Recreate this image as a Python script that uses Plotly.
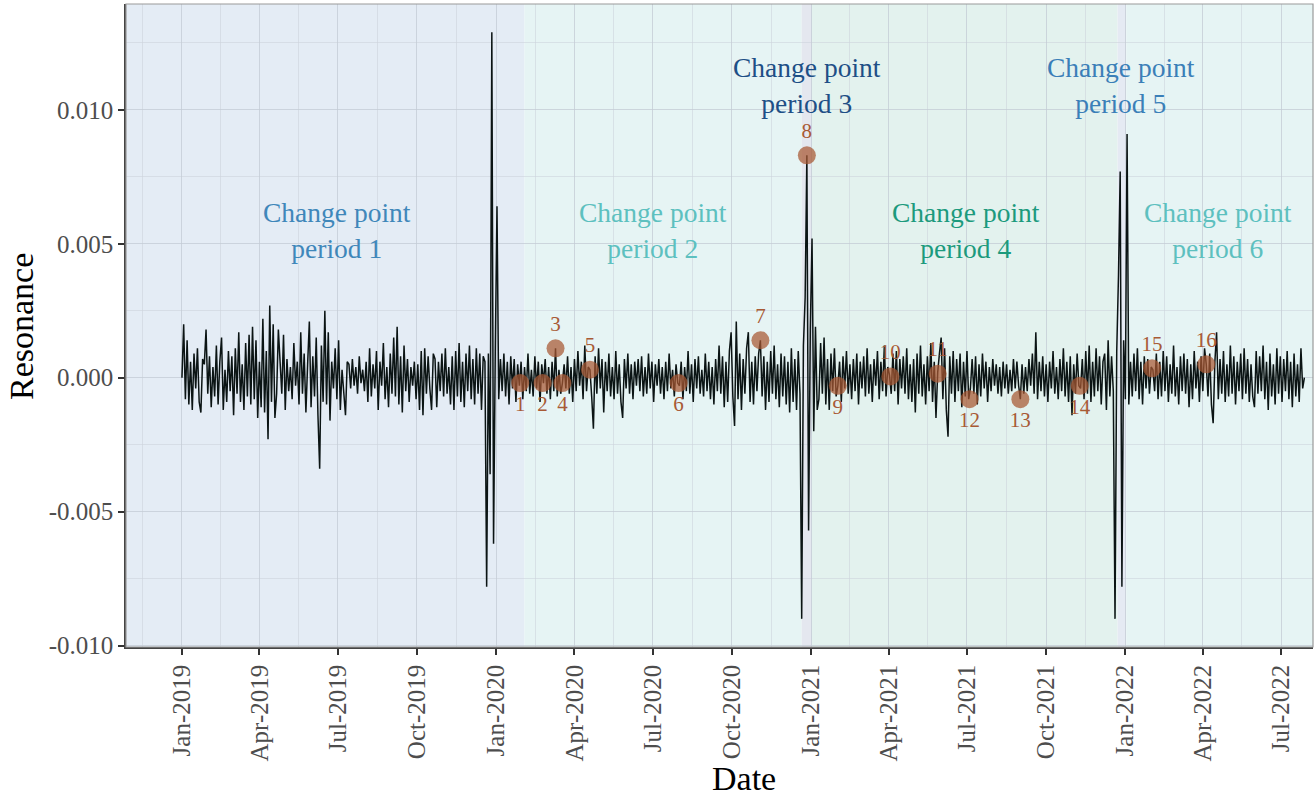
import pandas as pd
import plotly.graph_objects as go

# ---------------- data (resonance in units of 1e-4, one value every 2 days) ----------------
res_2019_start = "2019-01-01"
res_2019 = [
    0, 20, -8, 14, -10, 6, -12, 9, -4, 11,
    -9, -13, 7, 5, 18, -6, 8, -11, 4, -7,
    12, -10, 6, 15, -12, 3, -9, 10, -5, 8,
    -14, 11, -6, 17, -9, 5, -12, 13, -7, 16,
    -10, 19, -8, 14, -15, 6, -11, 22, -13, 10,
    -23, 27, -9, 20, -15, -6, 18, 8, -6, 16,
    -12, 7, -5, 4, -8, 13, -3, 6, -10, 17,
    -6, 9, -13, 5, 21, -11, 8, -7, 15, -14,
    -34, 12, -9, 25, -10, 17, -16, 6, -4, 11,
    -8, 14, -12, 3, -6, -14, 6, 5, -4, 7,
    -3, 4, -6, 8, -2, 3, -5, 6, -9, 11,
    -7, 5, -4, 10, -12, 6, -3, 13, -8, 4,
    -11, 9, -6, 15, -7, 19, -10, 8, -13, 12,
    -5, 7, -9, 4, -3, 6, -8, 5, -12, 10,
    -14, 11, -6, 8, -4, -12, 9, 7, -11, 6,
    -5, 9, -7, 11, -6, 4, -10, 8, -12, 10,
    -7, 13, -9, 6, -11, 9, -5, 12, -8, 7,
    -10, 11, -6, 9, -12, 8,
]
spike_2019_start = "2019-12-19"
spike_2019 = [6, -78, 9, -36, 129, -62, 10, 64, -8, 7]

res_2020_start = "2020-01-08"
res_2020 = [
    -5, 9, -7, 6, -10, 8, -4, 7, -9, 5,
    -3, 6, -8, 4, -5, 9, -6, 3, -7, 8,
    -4, 6, -9, 5, -2, 7, -6, 4, -8, 6,
    -5, 11, -7, 3, -6, -2, 5, -4, 8, -6,
    4, -9, 7, -5, 10, -3, 6, -8, 12, -5,
    4, 3, -7, -19, 8, -6, 11, -4, 7, -13,
    6, -5, 9, -7, 4, -8, 10, -6, 5, -9,
    -15, 7, -4, 9, -6, 5, -8, 6, -3, 7,
    -5, 8, -7, 4, -6, 9, -4, 6, -9, 5,
    -3, 7, -6, 4, -8, 6, -5, 9, -4, 3,
    -7, 5, -2, -3, 6, -8, 4, -5, 10, -6,
    5, -9, 7, -4, 8, -6, 3, -7, 9, -5,
    6, -8, 4, -10, 7, -5, 12, -6, 8, -11,
    6, -9, 10, 17, -7, -18, 21, -8, 9, -12,
    7, -6, 11, 17, -9, 6, -10, 8, -5, 9,
    14, -7, 8, -12, 6, -9, 10, -6, 12, -8,
    5, -11, 9, -7, 8, -10, 6, -13, 11, -9,
    7, -12, 10, -6,
]
spike_2020_start = "2020-12-21"
spike_2020 = [-90, 12, 30, 83, -57, 18, 52, -20, 19, -12]

res_2021_start = "2021-01-10"
res_2021 = [
    -8, 13, -6, 15, -10, 7, -12, 9, -5, 11,
    -7, -3, 6, -9, 8, -4, 10, -6, 5, -8,
    7, -5, 9, -10, 6, -4, 8, -7, 11, -6,
    5, -9, 7, -3, 10, -8, 6, -5, 12, -7,
    4, 1, -6, 9, -5, 10, -10, 7, -4, 8,
    -6, 11, -8, 5, -9, 7, -13, 9, -6, 12,
    -7, 5, -10, 8, -5, 13, -9, 6, -15, 2,
    9, 15, -8, 11, -12, -22, 8, -6, 10, -9,
    7, -5, 9, -11, 6, -7, 10, -8, -4, 7,
    -6, 8, -10, 5, -7, 9, -4, 6, -9, 4,
    -5, 7, -3, 5, -6, 4, -7, 6, -4, 5,
    -6, 3, -5, 7, -4, 6, -3, -8, 5, -6,
    4, -5, 7, -3, 9, -6, 17, -8, 6, -5,
    8, -7, 5, -9, 6, -4, 10, -6, 4, -8,
    7, -5, 11, -7, 6, -9, 8, -14, 5, -6,
    9, -3, -4, 7, -8, 10, -6, 12, -9, 6,
    -7, 11, -5, 8, -10, 6, 9, -12, 14, -7,
    8, -5,
]
spike_2021_start = "2021-12-20"
spike_2021 = [-90, 10, 38, 77, -78, 14, -8, 91, -10, 6]

res_2022_start = "2022-01-09"
res_2022 = [
    -7, 9, -5, 11, -8, 6, -10, 8, -4, 7,
    -6, 4, 3, -5, 9, -8, 6, -7, 10, -5,
    8, -9, 5, -6, 12, -7, 4, -10, 8, -5,
    9, -6, 7, -11, 5, -8, 10, -4, 6, -9,
    8, -5, 11, 5, -7, 9, -10, -17, 6, 17,
    -8, 7, -6, 10, -9, 5, -7, 12, -6, 8,
    -10, 6, -5, 9, -8, 11, -6, 7, -9, 5,
    -7, -11, 10, -6, 8, -5, 12, -8, 6, -12,
    9, -7, 5, -10, 11, -6, 8, -9, 7, -5,
    10, -8, 6, -11, 9, -7, 5, -9, 11, -4,
    0,
]

# change points (numbered markers)
cp_labels = [str(k) for k in range(1, 17)]
cp_dates = ["2020-01-29", "2020-02-24", "2020-03-10", "2020-03-18", "2020-04-19",
            "2020-07-31", "2020-11-03", "2020-12-27", "2021-02-01", "2021-04-03",
            "2021-05-28", "2021-07-04", "2021-09-01", "2021-11-09", "2022-02-01",
            "2022-04-05"]
cp_values = [-2, -2, 11, -2, 3, -2, 14, 83, -3, 0.5, 1.5, -8, -8, -3, 3.5, 5]  # 1e-4
cp_label_side = ["bottom", "bottom", "top", "bottom", "top", "bottom", "top", "top",
                 "bottom", "top", "top", "bottom", "bottom", "bottom", "top", "top"]

# change-point periods
period_names = ["Change point<br>period 1", "Change point<br>period 2",
                "Change point<br>period 3", "Change point<br>period 4",
                "Change point<br>period 5", "Change point<br>period 6"]
period_starts = ["2018-09-01", "2020-02-03", "2020-12-21", "2021-01-02", "2021-12-23", "2022-01-02"]
period_ends = ["2020-02-03", "2020-12-21", "2021-01-02", "2021-12-23", "2022-01-02", "2022-12-31"]
period_label_x = ["2019-06-30", "2020-07-01", "2020-12-27", "2021-06-30", "2021-12-27", "2022-04-19"]
period_label_y = [0.0055, 0.0055, 0.0109, 0.0055, 0.0109, 0.0055]

x_ticks = ["2019-01-01", "2019-04-01", "2019-07-01", "2019-10-01",
           "2020-01-01", "2020-04-01", "2020-07-01", "2020-10-01",
           "2021-01-01", "2021-04-01", "2021-07-01", "2021-10-01",
           "2022-01-01", "2022-04-01", "2022-07-01"]
y_ticks = [-0.010, -0.005, 0.0, 0.005, 0.010]
y_tick_text = ["-0.010", "-0.005", "0.000", "0.005", "0.010"]
x_title = "Date"
y_title = "Resonance"

# ---------------- styles ----------------
period_fill = ["#e4ecf5", "#e6f4f4", "#e4e7ef", "#e3f2ee", "#e5eaf3", "#e6f4f4"]
period_text_color = ["#3f87ba", "#5dc0bf", "#1e4f86", "#1c9a7d", "#3b7fb8", "#5dc0bf"]
SERIF = "Liberation Serif, Times New Roman, serif"
W, H = 1314, 798
ML, MR, MT, MB = 126, 1, 4, 151
PW, PH = W - ML - MR, H - MT - MB

# ---------------- build series ----------------
blocks = [(res_2019_start, res_2019), (spike_2019_start, spike_2019),
          (res_2020_start, res_2020), (spike_2020_start, spike_2020),
          (res_2021_start, res_2021), (spike_2021_start, spike_2021),
          (res_2022_start, res_2022)]
dates, values = [], []
for start, block in blocks:
    dates.extend(pd.date_range(start, periods=len(block), freq="2D"))
    values.extend(v * 1e-4 for v in block)

fig = go.Figure()

for s, e, c in zip(period_starts, period_ends, period_fill):
    fig.add_shape(type="rect", xref="x", yref="paper", x0=s, x1=e, y0=0, y1=1,
                  fillcolor=c, line_width=0, layer="below")

fig.add_trace(go.Scatter(x=dates, y=values, mode="lines",
                         line=dict(color="#0b1414", width=1.5),
                         hoverinfo="skip", showlegend=False))

fig.add_trace(go.Scatter(
    x=cp_dates, y=[v * 1e-4 for v in cp_values], mode="markers+text",
    text=cp_labels,
    textposition=[f"{s} center" for s in cp_label_side],
    textfont=dict(family=SERIF, size=21, color="#a85a35"),
    marker=dict(size=18, color="rgba(168,88,50,0.72)", line=dict(width=0)),
    showlegend=False))

for name, lx, ly, col in zip(period_names, period_label_x, period_label_y, period_text_color):
    fig.add_annotation(x=lx, y=ly, text=name, showarrow=False,
                       font=dict(family=SERIF, size=27.5, color=col))

# axis titles (panel is cropped on the right in the reference, so Date sits right of centre)
fig.add_annotation(xref="paper", yref="paper", x=(744 - ML) / PW, y=(H - 778 - MB) / PH,
                   text=x_title, showarrow=False, xanchor="center", yanchor="middle",
                   font=dict(family=SERIF, size=34, color="black"))
fig.add_annotation(xref="paper", yref="paper", x=(22 - ML) / PW, y=0.5 - (327 - (MT + PH / 2)) / PH,
                   text=y_title, showarrow=False, textangle=-90, xanchor="center", yanchor="middle",
                   font=dict(family=SERIF, size=34, color="black"))

# panel border
fig.add_shape(type="rect", xref="paper", yref="paper", x0=0, x1=1, y0=0, y1=1,
              line=dict(color="#9a9a9a", width=1.2), fillcolor="rgba(0,0,0,0)", layer="above")

major_x = pd.to_datetime(["2018-10-01"] + x_ticks + ["2022-10-01"])
minor_x = [major_x[i] + (major_x[i + 1] - major_x[i]) / 2 for i in range(len(major_x) - 1)]

fig.update_xaxes(
    automargin=False,
    range=["2018-10-28", "2022-08-07"],
    tickmode="array", tickvals=x_ticks, tickformat="%b-%Y", tickangle=-90,
    tickfont=dict(family=SERIF, size=25, color="#4d4d4d"),
    ticks="outside", ticklen=6, tickwidth=1.5, tickcolor="#333333",
    showline=True, linecolor="#444444", linewidth=1.5,
    showgrid=True, gridcolor="rgba(195,203,212,0.75)", gridwidth=1.3,
    minor=dict(tickmode="array", tickvals=minor_x, showgrid=True,
               gridcolor="rgba(205,212,220,0.6)", gridwidth=0.8, ticks=""),
    zeroline=False,
)
fig.update_yaxes(
    automargin=False,
    range=[-0.01005, 0.01395],
    tickmode="array", tickvals=y_ticks, ticktext=y_tick_text,
    tickfont=dict(family=SERIF, size=25, color="#4d4d4d"),
    ticks="outside", ticklen=6, tickwidth=1.5, tickcolor="#333333",
    showline=True, linecolor="#444444", linewidth=1.5,
    showgrid=True, gridcolor="rgba(195,203,212,0.75)", gridwidth=1.3,
    minor=dict(tickmode="array", tickvals=[-0.0075, -0.0025, 0.0025, 0.0075, 0.0125],
               showgrid=True, gridcolor="rgba(205,212,220,0.6)", gridwidth=0.8, ticks=""),
    zeroline=False,
)

fig.update_layout(
    width=W, height=H,
    margin=dict(l=ML, r=MR, t=MT, b=MB),
    paper_bgcolor="white", plot_bgcolor="white",
    showlegend=False,
)

fig.write_html("out.html", config={"displayModeBar": False},
               post_script="document.body.style.margin='0px';document.body.style.overflow='hidden';")
